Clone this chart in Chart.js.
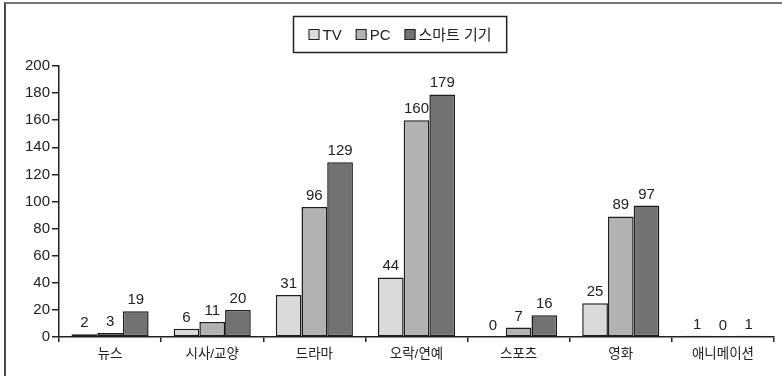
<!DOCTYPE html>
<html lang="ko">
<head>
<meta charset="utf-8">
<script src="https://cdn.jsdelivr.net/npm/chart.js@4/dist/chart.umd.min.js"></script>
<style>
  html, body { margin: 0; padding: 0; background: #fff; }
  #wrap { position: relative; width: 782px; height: 376px; overflow: hidden; }
  #frame {
    position: absolute; left: 4px; top: 2px; width: 800px; height: 400px;
    border-left: 2px solid #4a4a4a; border-top: 2px solid #777;
    pointer-events: none;
  }
  canvas { position: absolute; left: 0; top: 0; }
</style>
</head>
<body>
<div id="wrap">
  <canvas id="chart" width="782" height="376"></canvas>
  <div id="frame"></div>
</div>
<script>
// 장르별 시청 매체 응답 수
const categories = ['뉴스', '시사/교양', '드라마', '오락/연예', '스포츠', '영화', '애니메이션'];
const seriesNames = ['TV', 'PC', '스마트 기기'];
const tvValues = [2, 6, 31, 44, 0, 25, 1];
const pcValues = [3, 11, 96, 160, 7, 89, 0];
const smartValues = [19, 20, 129, 179, 16, 97, 1];
const yTicks = [0, 20, 40, 60, 80, 100, 120, 140, 160, 180, 200];

const fills = ['#dadada', '#b2b2b2', '#727272'];
const edge = '#1e1e1e';
const FONT = '"Liberation Sans", "Noto Sans CJK KR", sans-serif';

// 막대 위 값 표시
const valueLabels = {
  id: 'valueLabels',
  afterDatasetsDraw(chart) {
    const ctx = chart.ctx;
    ctx.save();
    ctx.font = '15px ' + FONT;
    ctx.fillStyle = '#222';
    ctx.textAlign = 'center';
    ctx.textBaseline = 'alphabetic';
    chart.data.datasets.forEach((ds, i) => {
      chart.getDatasetMeta(i).data.forEach((bar, j) => {
        ctx.fillText(String(ds.data[j]), bar.x, bar.y - 7);
      });
    });
    ctx.restore();
  }
};

// 테두리가 있는 범례
const boxedLegend = {
  id: 'boxedLegend',
  afterDraw(chart) {
    const ctx = chart.ctx;
    ctx.save();
    ctx.font = '15px ' + FONT;
    const box = 11, gapText = 3, gapItem = 14, padX = 15;
    const widths = chart.data.datasets.map(ds => box + gapText + ctx.measureText(ds.label).width);
    const total = widths.reduce((a, b) => a + b, 0) + gapItem * (widths.length - 1);
    const w = total + padX * 2, h = 36;
    const cx = 400;
    const left = Math.round(cx - w / 2) + 0.5, top = 16.5;
    ctx.lineWidth = 1.5;
    ctx.strokeStyle = '#222';
    ctx.strokeRect(left, top, w, h);
    let x = left + padX;
    const cy = top + h / 2;
    chart.data.datasets.forEach((ds, i) => {
      ctx.fillStyle = ds.backgroundColor;
      ctx.fillRect(x, cy - box / 2, box, box);
      ctx.lineWidth = 1;
      ctx.strokeStyle = edge;
      ctx.strokeRect(x + 0.5, cy - box / 2 + 0.5, box - 1, box - 1);
      ctx.fillStyle = '#222';
      ctx.textAlign = 'left';
      ctx.textBaseline = 'middle';
      ctx.fillText(ds.label, x + box + gapText, cy + 1);
      x += widths[i] + gapItem;
    });
    ctx.restore();
  }
};

const datasets = [tvValues, pcValues, smartValues].map((vals, i) => ({
  label: seriesNames[i],
  data: vals,
  backgroundColor: fills[i],
  borderColor: edge,
  borderWidth: 1.5,
  borderSkipped: false,
  categoryPercentage: 0.755,
  barPercentage: 1.0
}));

new Chart(document.getElementById('chart'), {
  type: 'bar',
  data: { labels: categories, datasets },
  plugins: [valueLabels, boxedLegend],
  options: {
    responsive: false,
    animation: false,
    devicePixelRatio: 1,
    layout: { padding: { top: 66, right: 8, left: 0, bottom: 0 } },
    plugins: { legend: { display: false }, tooltip: { enabled: false } },
    scales: {
      x: {
        afterFit(scale) { scale.height = 39; },
        grid: { display: true, offset: true, drawOnChartArea: false, drawTicks: true, tickLength: 5, color: '#222', lineWidth: 1.5 },
        border: { display: true, color: '#222', width: 1.5 },
        ticks: { color: '#222', font: { family: FONT, size: 13.5 }, padding: 4, maxRotation: 0 }
      },
      y: {
        min: 0, max: 200,
        afterFit(scale) { scale.width = 59; },
        afterBuildTicks(scale) { scale.ticks = yTicks.map(v => ({ value: v })); },
        grid: { display: true, drawOnChartArea: false, drawTicks: true, tickLength: 7, color: '#222', lineWidth: 1.5 },
        border: { display: true, color: '#222', width: 1.5 },
        ticks: { color: '#222', font: { family: FONT, size: 15 }, padding: 2 }
      }
    }
  }
});
</script>
</body>
</html>
